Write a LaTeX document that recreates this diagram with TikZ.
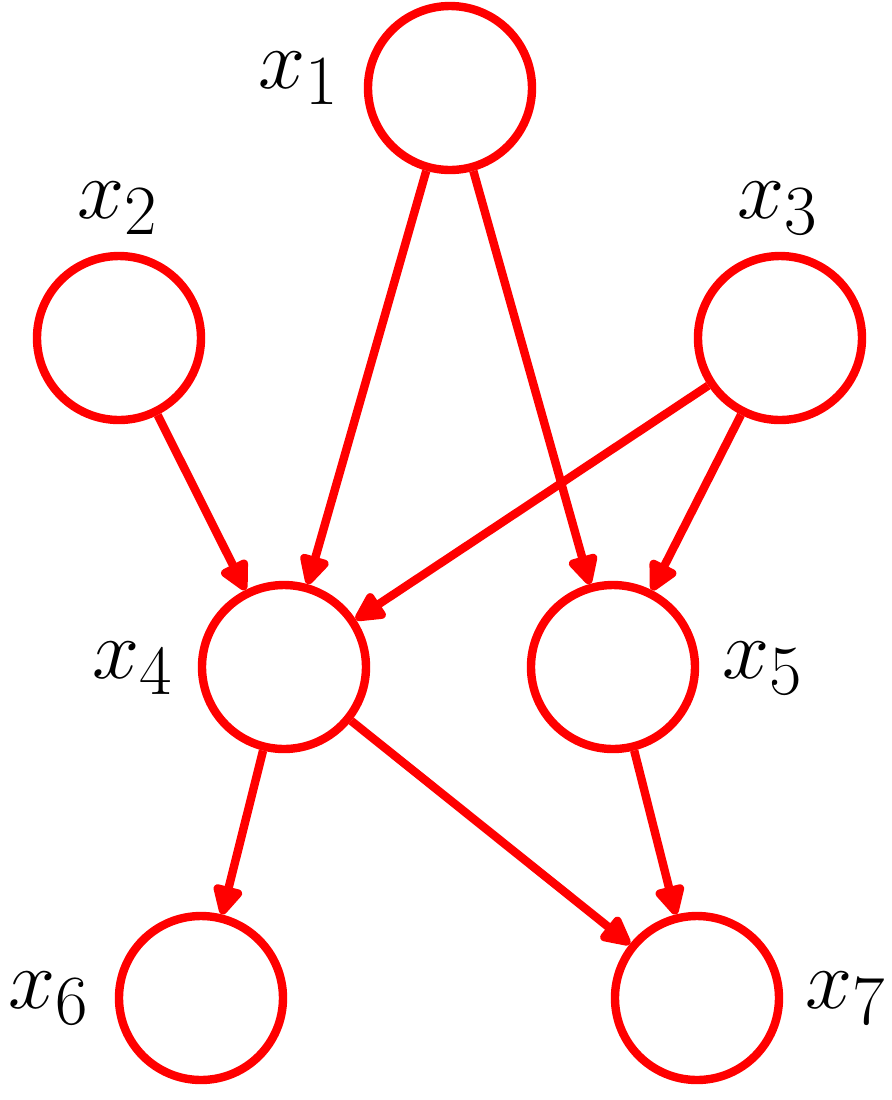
\documentclass[tikz,border=0pt]{standalone}
\usepackage{graphicx}
\usetikzlibrary{arrows.meta}
\newcommand{\mylbl}[1]{\scalebox{1.7}{\Huge$#1$}}
\begin{document}
\begin{tikzpicture}[x=0.5pt,y=-0.5pt,
  vtx/.style={circle,draw=red,line width=4.2pt,minimum size=82pt,inner sep=0pt},
  lbl/.style={inner sep=0pt},
  edge/.style={draw=red,line width=4.2pt,-{Triangle[length=17pt,width=16pt,round]}}]
\useasboundingbox (0,0) rectangle (892,1100);
\node[vtx] (n1) at (450,88) {};
\node[vtx] (n2) at (119,338) {};
\node[vtx] (n3) at (780,338) {};
\node[vtx] (n4) at (284,667) {};
\node[vtx] (n5) at (613,667) {};
\node[vtx] (n6) at (201,998) {};
\node[vtx] (n7) at (697,998) {};
\node[lbl] (l1) at (299,78) {\mylbl{x_1}};
\node[lbl] (l2) at (118,208) {\mylbl{x_2}};
\node[lbl] (l3) at (778,208) {\mylbl{x_3}};
\node[lbl] (l4) at (133,668) {\mylbl{x_4}};
\node[lbl] (l5) at (763,668) {\mylbl{x_5}};
\node[lbl] (l6) at (49,998) {\mylbl{x_6}};
\node[lbl] (l7) at (846,998) {\mylbl{x_7}};
\draw[edge] (n1) -- (n4);
\draw[edge] (n1) -- (n5);
\draw[edge] (n2) -- (n4);
\draw[edge] (n3) -- (n4);
\draw[edge] (n3) -- (n5);
\draw[edge] (n4) -- (n6);
\draw[edge] (n4) -- (n7);
\draw[edge] (n5) -- (n7);
\end{tikzpicture}
\end{document}
